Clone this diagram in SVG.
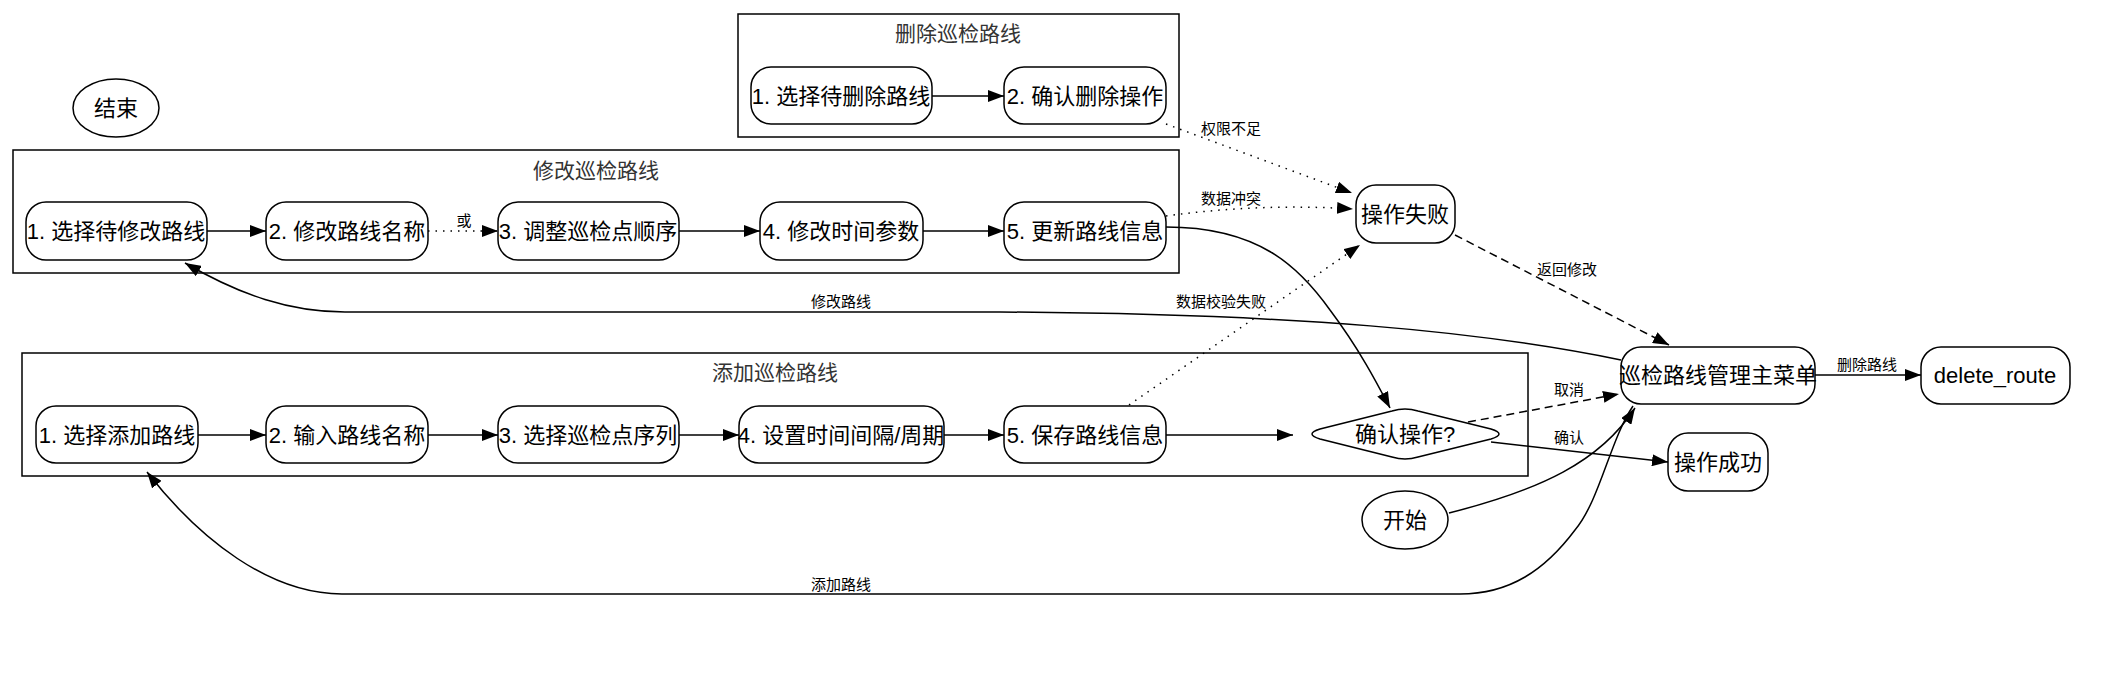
<svg xmlns="http://www.w3.org/2000/svg" width="2115" height="696" viewBox="0 0 2115 696">
<style>
text{font-family:"Liberation Sans","Noto Sans CJK SC",sans-serif;fill:#000}
.n{fill:#fff;stroke:#000;stroke-width:1.5}
.c{fill:none;stroke:#000;stroke-width:1.5}
.t{font-size:22px;text-anchor:middle;dominant-baseline:central}
.ct{font-size:21px;text-anchor:middle;dominant-baseline:central;fill:#333}
.l{font-size:15px;text-anchor:middle;dominant-baseline:central}
.e{fill:none;stroke:#000;stroke-width:1.5}
.dot{stroke-dasharray:1.5 6}
.dash{stroke-dasharray:8 5}
</style>
<defs>
<marker id="a" markerWidth="16" markerHeight="12" refX="16" refY="6" orient="auto" markerUnits="userSpaceOnUse"><path d="M0,0 L16,6 L0,12 Z" fill="#000"/></marker>
</defs>
<rect width="2115" height="696" fill="#fff"/>
<g id="cluster_delete"><rect class="c" x="738" y="14" width="441" height="123"/><text class="ct" x="958" y="33">删除巡检路线</text></g>
<g id="cluster_modify"><rect class="c" x="13" y="150" width="1166" height="123"/><text class="ct" x="596" y="170">修改巡检路线</text></g>
<g id="cluster_add"><rect class="c" x="22" y="353" width="1506" height="123"/><text class="ct" x="775" y="372">添加巡检路线</text></g>
<g id="edges">
<path class="e" d="M932,96 L1004,96" marker-end="url(#a)"/>
<path class="e" d="M207,231 L266,231" marker-end="url(#a)"/>
<path class="e dot" d="M428,231 L498,231" marker-end="url(#a)"/>
<text class="l" x="464" y="220">或</text>
<path class="e" d="M679,231 L760,231" marker-end="url(#a)"/>
<path class="e" d="M923,231 L1004,231" marker-end="url(#a)"/>
<path class="e" d="M198,435 L266,435" marker-end="url(#a)"/>
<path class="e" d="M428,435 L498,435" marker-end="url(#a)"/>
<path class="e" d="M679,435 L739,435" marker-end="url(#a)"/>
<path class="e" d="M944,435 L1004,435" marker-end="url(#a)"/>
<path class="e" d="M1166,435 L1293,435" marker-end="url(#a)"/>
<path class="e dot" d="M1166,124 L1352,193" marker-end="url(#a)"/>
<text class="l" x="1231" y="128">权限不足</text>
<path class="e dot" d="M1166,216 Q1260,203 1353,209" marker-end="url(#a)"/>
<text class="l" x="1231" y="198">数据冲突</text>
<path class="e dot" d="M1129,405 L1360,245" marker-end="url(#a)"/>
<text class="l" x="1221" y="301">数据校验失败</text>
<path class="e dash" d="M1455,235 L1669,345" marker-end="url(#a)"/>
<text class="l" x="1567" y="269">返回修改</text>
<path class="e" d="M1166,227 C1260,227 1300,268 1330,310 C1360,350 1378,385 1390,408" marker-end="url(#a)"/>
<path class="e dash" d="M1468,422 L1619,394" marker-end="url(#a)"/>
<text class="l" x="1569" y="389">取消</text>
<path class="e" d="M1491,442 L1668,462" marker-end="url(#a)"/>
<text class="l" x="1569" y="437">确认</text>
<path class="e" d="M1449,513 C1540,490 1600,462 1635,408" marker-end="url(#a)"/>
<path class="e" d="M1815,375 L1921,375" marker-end="url(#a)"/>
<text class="l" x="1867" y="364">删除路线</text>
<path class="e" d="M1621,360 C1480,331 1300,314 1000,312 L345,312 C290,312 240,295 185,263" marker-end="url(#a)"/>
<text class="l" x="841" y="301">修改路线</text>
<path class="e" d="M1633,406 C1610,440 1600,500 1575,530 C1545,570 1510,594 1460,594 L342,594 C270,594 200,540 147,472" marker-end="url(#a)"/>
<text class="l" x="841" y="584">添加路线</text>
</g>
<g id="end"><ellipse class="n" cx="116" cy="108" rx="43" ry="29"/><text class="t" x="116" y="108">结束</text></g>
<g id="del1"><rect class="n" x="751" y="67" width="181" height="57" rx="20"/><text class="t" x="841" y="96">1. 选择待删除路线</text></g>
<g id="del2"><rect class="n" x="1004" y="67" width="162" height="57" rx="20"/><text class="t" x="1085" y="96">2. 确认删除操作</text></g>
<g id="mod1"><rect class="n" x="26" y="202" width="181" height="58" rx="20"/><text class="t" x="116" y="231">1. 选择待修改路线</text></g>
<g id="mod2"><rect class="n" x="266" y="202" width="162" height="58" rx="20"/><text class="t" x="347" y="231">2. 修改路线名称</text></g>
<g id="mod3"><rect class="n" x="498" y="202" width="181" height="58" rx="20"/><text class="t" x="588" y="231">3. 调整巡检点顺序</text></g>
<g id="mod4"><rect class="n" x="760" y="202" width="163" height="58" rx="20"/><text class="t" x="841" y="231">4. 修改时间参数</text></g>
<g id="mod5"><rect class="n" x="1004" y="202" width="162" height="58" rx="20"/><text class="t" x="1085" y="231">5. 更新路线信息</text></g>
<g id="add1"><rect class="n" x="36" y="406" width="162" height="57" rx="20"/><text class="t" x="117" y="435">1. 选择添加路线</text></g>
<g id="add2"><rect class="n" x="266" y="406" width="162" height="57" rx="20"/><text class="t" x="347" y="435">2. 输入路线名称</text></g>
<g id="add3"><rect class="n" x="498" y="406" width="181" height="57" rx="20"/><text class="t" x="588" y="435">3. 选择巡检点序列</text></g>
<g id="add4"><rect class="n" x="739" y="406" width="205" height="57" rx="20"/><text class="t" x="841" y="435">4. 设置时间间隔/周期</text></g>
<g id="add5"><rect class="n" x="1004" y="406" width="162" height="57" rx="20"/><text class="t" x="1085" y="435">5. 保存路线信息</text></g>
<g id="confirm"><path class="n" d="M1320,429 L1392,411 Q1405,407 1418,411 L1491,429 Q1507,434 1491,439 L1418,457 Q1405,461 1392,457 L1320,439 Q1304,434 1320,429 Z"/><text class="t" x="1405" y="434">确认操作?</text></g>
<g id="fail"><rect class="n" x="1356" y="185" width="99" height="58" rx="20"/><text class="t" x="1405" y="214">操作失败</text></g>
<g id="main"><rect class="n" x="1621" y="347" width="194" height="57" rx="20"/><text class="t" x="1718" y="375">巡检路线管理主菜单</text></g>
<g id="delete_route"><rect class="n" x="1921" y="347" width="149" height="57" rx="20"/><text class="t" x="1995" y="375">delete_route</text></g>
<g id="success"><rect class="n" x="1668" y="433" width="100" height="58" rx="20"/><text class="t" x="1718" y="462">操作成功</text></g>
<g id="start"><ellipse class="n" cx="1405" cy="520" rx="43" ry="29"/><text class="t" x="1405" y="520">开始</text></g>
</svg>
